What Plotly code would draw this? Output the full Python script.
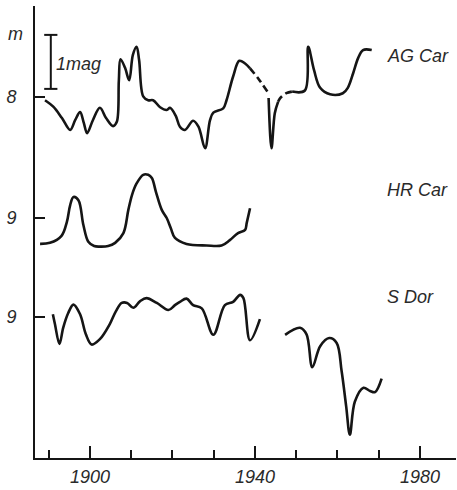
import plotly.graph_objects as go

# ---------------- data (years, magnitudes) ----------------
ag_years_1 = [1889.1, 1891.1, 1893.2, 1895.2, 1896.4, 1897.6, 1898.5, 1899.3, 1900.7, 1902.4,
              1903.9, 1905.6, 1906.5, 1907.0, 1907.4, 1908.5, 1909.5, 1910.4, 1911.3, 1911.9,
              1912.9, 1914.1, 1915.3, 1917.0, 1918.6, 1919.4, 1920.8, 1921.8, 1923.0, 1925.0,
              1926.3, 1927.9, 1929.1, 1929.9, 1932.3, 1933.1, 1934.7, 1936.2, 1937.6, 1938.8]
ag_mags_1 = [8.06, 8.18, 8.39, 8.61, 8.43, 8.28, 8.48, 8.67, 8.43, 8.20,
             8.39, 8.54, 8.46, 7.69, 7.30, 7.46, 7.69, 7.22, 7.07, 7.31,
             7.99, 8.06, 8.06, 8.19, 8.24, 8.20, 8.35, 8.55, 8.61, 8.44,
             8.55, 8.95, 8.43, 8.29, 8.21, 8.06, 7.62, 7.33, 7.38, 7.47]
ag_years_dash1 = [1938.8, 1940.7, 1943.0]
ag_mags_dash1 = [7.47, 7.65, 7.90]
ag_years_dip = [1943.3, 1944.0, 1944.8, 1945.6]
ag_mags_dip = [8.02, 8.95, 8.30, 8.09]
ag_years_dash2 = [1945.6, 1946.1, 1947.6, 1949.0]
ag_mags_dash2 = [8.09, 8.02, 7.93, 7.90]
ag_years_2 = [1949.0, 1952.1, 1952.9, 1954.3, 1955.8, 1958.2, 1961.3, 1962.5, 1963.8, 1965.0, 1966.2, 1968.3]
ag_mags_2 = [7.90, 7.88, 7.07, 7.50, 7.83, 7.95, 7.93, 7.83, 7.56, 7.28, 7.13, 7.13]

hr_years = [1887.9, 1890.3, 1893.1, 1894.4, 1895.2, 1896.0, 1897.2, 1898.4, 1899.6, 1901.0,
            1902.4, 1904.4, 1906.1, 1908.1, 1909.3, 1910.2, 1911.3, 1912.9, 1914.1, 1915.0,
            1916.0, 1917.4, 1918.6, 1919.6, 1920.6, 1923.4, 1928.3, 1931.9, 1933.9, 1935.9,
            1937.6, 1938.0, 1938.8]
hr_mags = [9.48, 9.46, 9.33, 9.07, 8.76, 8.61, 8.67, 9.13, 9.44, 9.52,
           9.53, 9.52, 9.46, 9.28, 8.85, 8.57, 8.36, 8.20, 8.20, 8.26,
           8.52, 8.85, 9.00, 9.19, 9.37, 9.48, 9.51, 9.51, 9.41, 9.28,
           9.22, 9.09, 8.82]

sdor_years_1 = [1891.0, 1891.5, 1892.6, 1893.5, 1894.7, 1896.0, 1897.6, 1899.0, 1900.4, 1902.4,
                1904.8, 1906.3, 1907.7, 1909.0, 1910.5, 1912.1, 1913.7, 1916.2, 1919.0, 1920.6,
                1921.8, 1923.4, 1925.0, 1927.1, 1929.9, 1932.7, 1934.7, 1936.4, 1937.2, 1938.8,
                1941.2]
sdor_mags_1 = [8.95, 9.13, 9.50, 9.20, 8.93, 8.77, 8.95, 9.32, 9.51, 9.41,
               9.13, 8.89, 8.74, 8.74, 8.83, 8.71, 8.65, 8.74, 8.87, 8.78,
               8.72, 8.66, 8.78, 8.84, 9.33, 8.78, 8.72, 8.59, 8.65, 9.43,
               9.04]
sdor_years_2 = [1947.3, 1950.9, 1952.5, 1953.9, 1955.8, 1958.0, 1959.8, 1961.0, 1962.1, 1963.0,
                1964.2, 1966.3, 1967.9, 1969.1, 1970.7]
sdor_mags_2 = [9.33, 9.20, 9.32, 9.93, 9.54, 9.39, 9.48, 10.00, 10.65, 11.18,
               10.57, 10.31, 10.37, 10.39, 10.14]

star_names = ["AG Car", "HR Car", "S Dor"]
tick_mags = [8, 9, 9]
major_years = [1900, 1940, 1980]
major_labels = ["1900", "1940", "1980"]

# vertical display offsets (in magnitudes) placing each star in its own band
offsets = {"AG Car": 0.0, "HR Car": 1.2407, "S Dor": 3.074}

INK = "#151515"
TXT = "#2a2a2a"
FONT = "Liberation Sans"

fig = go.Figure()

def add(xs, ys, star, dash="solid"):
    off = offsets[star]
    fig.add_trace(go.Scatter(
        x=xs, y=[v + off for v in ys], mode="lines",
        line=dict(color=INK, width=2.6, shape="spline", smoothing=1.0, dash=dash),
        showlegend=False, hoverinfo="skip"))

add(ag_years_1, ag_mags_1, "AG Car")
add(ag_years_dash1, ag_mags_dash1, "AG Car", dash="7px,4px")
add(ag_years_dip, ag_mags_dip, "AG Car")
add(ag_years_dash2, ag_mags_dash2, "AG Car", dash="7px,4px")
add(ag_years_2, ag_mags_2, "AG Car")
add(hr_years, hr_mags, "HR Car")
add(sdor_years_1, sdor_mags_1, "S Dor")
add(sdor_years_2, sdor_mags_2, "S Dor")

# star name labels
label_y = {"AG Car": 7.24, "HR Car": 7.24 + 2.48, "S Dor": 7.24 + 4.46}
for name in star_names:
    fig.add_annotation(x=1971.5, y=label_y[name], text=name, showarrow=False,
                       xanchor="left", yanchor="middle",
                       font=dict(family=FONT, size=18, color=TXT, style="italic"))

# unit label and 1 mag scale bar
fig.add_annotation(x=0.0, xref="paper", xshift=-29, y=6.84, text="m", showarrow=False,
                   xanchor="left", yanchor="middle",
                   font=dict(family=FONT, size=18, color=TXT, style="italic"))
bar_x = 1890.5
bar_top, bar_bot = 6.85, 7.85
fig.add_shape(type="line", x0=bar_x, x1=bar_x, y0=bar_top, y1=bar_bot,
              line=dict(color=INK, width=2))
for yy in (bar_top, bar_bot):
    fig.add_shape(type="line", x0=bar_x - 1.6, x1=bar_x + 1.6, y0=yy, y1=yy,
                  line=dict(color=INK, width=2))
fig.add_annotation(x=bar_x + 0.7, y=(bar_top + bar_bot) / 2 + 0.04, text="1mag", showarrow=False,
                   xanchor="left", yanchor="middle",
                   font=dict(family=FONT, size=18, color=TXT, style="italic"))

ytickvals = [tick_mags[i] + offsets[n] for i, n in enumerate(star_names)]

fig.update_layout(
    width=457, height=490,
    margin=dict(l=35, r=1, t=6, b=32),
    paper_bgcolor="white", plot_bgcolor="white",
    showlegend=False,
    xaxis=dict(range=[1886.67, 1988.73], showgrid=False, zeroline=False,
               showline=True, linecolor=INK, linewidth=2,
               tickmode="array", tickvals=major_years, ticktext=major_labels,
               ticks="inside", ticklen=12, tickwidth=1.6, tickcolor=INK,
               ticklabelstandoff=1,
               tickfont=dict(family=FONT, size=18, color=TXT, style="italic"),
               minor=dict(dtick=10, tick0=1900, ticks="inside", ticklen=8,
                          tickwidth=1.6, tickcolor=INK, showgrid=False)),
    yaxis=dict(range=[14.685, 6.315], showgrid=False, zeroline=False,
               showline=True, linecolor=INK, linewidth=2,
               tickmode="array", tickvals=ytickvals, ticktext=[str(t) for t in tick_mags],
               ticks="inside", ticklen=10, tickwidth=1.6, tickcolor=INK,
               ticklabelstandoff=13,
               tickfont=dict(family=FONT, size=18, color=TXT, style="italic")),
)

fig.write_html("out.html", config={"displayModeBar": False},
               post_script="document.body.style.margin='0';document.body.style.overflow='hidden';")
